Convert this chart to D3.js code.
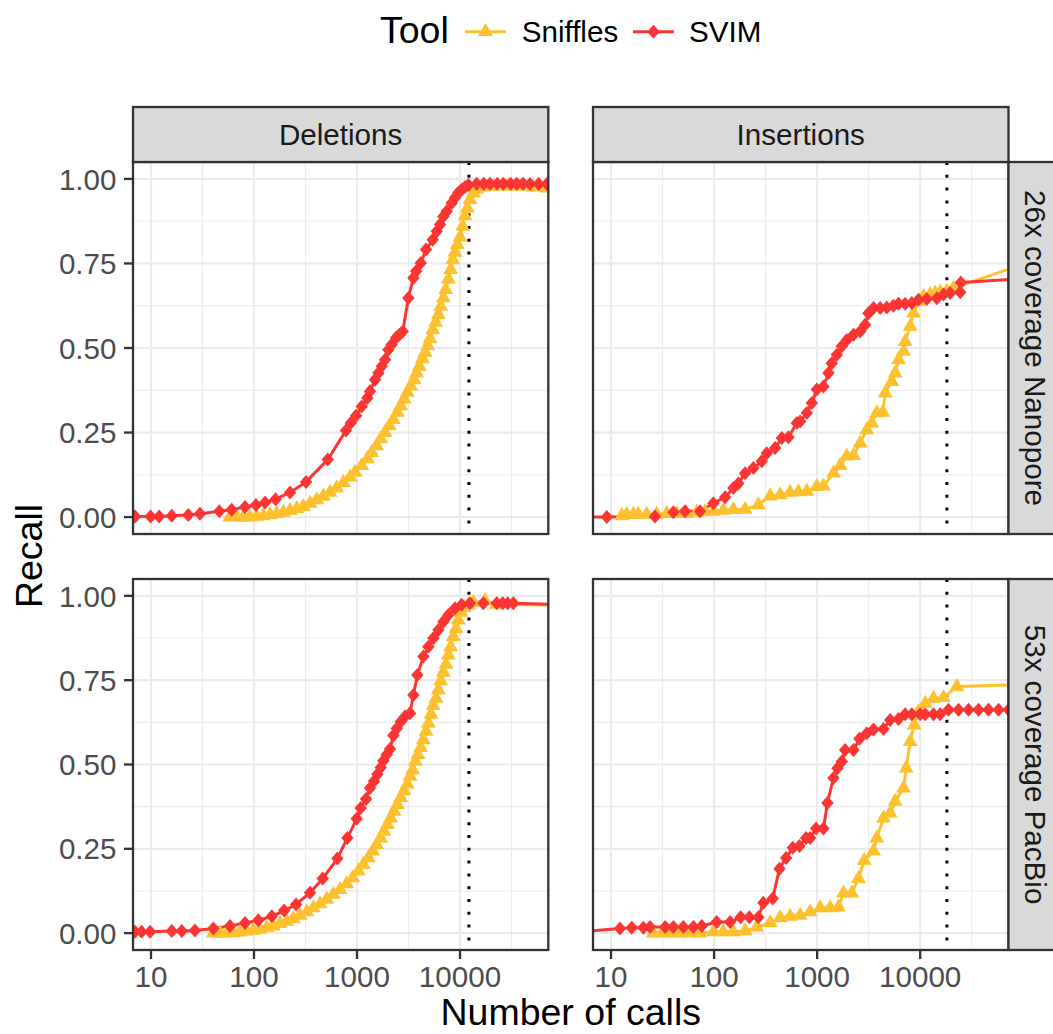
<!DOCTYPE html>
<html><head><meta charset="utf-8">
<script src="https://cdn.jsdelivr.net/npm/d3@7"></script>
<style>body{margin:0;background:#fff} svg{display:block}</style>
</head><body>
<script>
// ---------- data ----------
const tools = ["Sniffles", "SVIM"];
const svTypes = ["Deletions", "Insertions"];
const datasets = ["26x coverage Nanopore", "53x coverage PacBio"];
const xTickValues = [10, 100, 1000, 10000];
const yTickValues = [0, 0.25, 0.5, 0.75, 1];
const cutoffCalls = [12200, 18150]; // Deletions, Insertions

const snifflesDelNano = [[58,0],[68,0],[79,0],[91,0],[106,0.002],[123,0.004],[143,0.007],[166,0.010],[193,0.014],[224,0.019],[260,0.025],[301,0.031],[350,0.041],[406,0.051],[471,0.061],[547,0.073],[635,0.086],[736,0.102],[855,0.118],[957,0.132],[1110,0.152],[1259,0.172],[1387,0.191],[1552,0.211],[1698,0.231],[1871,0.250],[2061,0.270],[2254,0.288],[2465,0.310],[2656,0.329],[2861,0.349],[3083,0.369],[3321,0.387],[3577,0.406],[3796,0.426],[4028,0.446],[4308,0.468],[4573,0.487],[4853,0.507],[5114,0.527],[5428,0.554],[5806,0.576],[6163,0.599],[6494,0.623],[6892,0.648],[7263,0.673],[7710,0.704],[8115,0.732],[8490,0.761],[8935,0.783],[9415,0.806],[9995,0.828],[10610,0.860],[11190,0.891],[11790,0.914],[12510,0.939],[13470,0.958],[14520,0.970],[16850,0.976],[21090,0.978],[28400,0.978],[38260,0.978],[51500,0.976],[69400,0.973]];
const svimDelNano = [[7.0,0.002],[9.9,0.002],[12.0,0.002],[15.9,0.004],[23.0,0.006],[29.9,0.010],[46.1,0.017],[60.7,0.022],[81.8,0.030],[104.5,0.036],[128,0.043],[162,0.053],[224,0.073],[320,0.104],[520,0.170],[782,0.256],[869,0.278],[978,0.300],[1110,0.327],[1259,0.352],[1337,0.372],[1496,0.406],[1612,0.426],[1738,0.446],[1872,0.465],[2015,0.495],[2173,0.510],[2393,0.530],[2578,0.539],[2779,0.549],[3150,0.648],[3524,0.707],[3741,0.727],[4156,0.751],[4677,0.791],[5433,0.820],[5943,0.845],[6400,0.865],[6893,0.889],[7430,0.904],[8300,0.929],[8940,0.944],[9630,0.959],[10380,0.968],[11190,0.976],[12060,0.982],[14520,0.986],[17000,0.986],[19550,0.986],[23000,0.986],[26300,0.986],[31000,0.986],[35460,0.986],[41000,0.986],[47800,0.985],[58000,0.985],[69500,0.985]];
const snifflesInsNano = [[12.7,0.004],[14.2,0.007],[16.5,0.008],[18.4,0.008],[22.2,0.008],[27.7,0.009],[34.7,0.010],[43.4,0.010],[54.3,0.010],[67.9,0.015],[81.8,0.016],[98.5,0.017],[123,0.020],[154,0.022],[200,0.023],[269,0.036],[350,0.062],[438,0.066],[547,0.073],[659,0.075],[794,0.076],[993,0.090],[1152,0.092],[1441,0.130],[1672,0.152],[1941,0.180],[2254,0.182],[2614,0.219],[3034,0.258],[3396,0.278],[3796,0.308],[4341,0.310],[4573,0.367],[5305,0.401],[5716,0.426],[6163,0.465],[6892,0.490],[7150,0.519],[7998,0.564],[8616,0.603],[9630,0.638],[10780,0.653],[12510,0.658],[13990,0.662],[15640,0.665],[18150,0.668],[21090,0.677],[100000,0.748]];
const svimInsNano = [[5,0],[9.1,0],[26.7,0.002],[40.3,0.014],[52.2,0.017],[73.1,0.017],[98.5,0.041],[128,0.059],[154,0.086],[172,0.099],[200,0.130],[241,0.145],[290,0.165],[325,0.189],[391,0.204],[454,0.234],[527,0.236],[635,0.278],[684,0.283],[794,0.308],[888,0.337],[993,0.377],[1152,0.386],[1288,0.426],[1387,0.455],[1552,0.480],[1735,0.505],[1941,0.524],[2254,0.539],[2614,0.549],[2925,0.569],[3150,0.603],[3524,0.618],[4090,0.618],[4745,0.620],[5505,0.625],[6163,0.631],[7150,0.631],[8295,0.633],[9630,0.643],[11610,0.645],[14520,0.647],[16850,0.658],[19550,0.663],[24450,0.665],[24830,0.694],[100000,0.705]];
const snifflesDelPac = [[40.3,0],[46.7,0],[54.3,0],[63.0,0.001],[73.1,0.003],[84.9,0.006],[98.5,0.008],[114,0.011],[133,0.016],[154,0.021],[179,0.028],[208,0.035],[241,0.043],[280,0.053],[325,0.063],[377,0.075],[438,0.087],[508,0.100],[589,0.115],[684,0.129],[794,0.146],[908,0.164],[1030,0.184],[1152,0.203],[1288,0.223],[1419,0.243],[1552,0.262],[1698,0.282],[1829,0.302],[1969,0.322],[2122,0.341],[2286,0.361],[2465,0.381],[2656,0.402],[2861,0.422],[3083,0.442],[3273,0.465],[3474,0.484],[3686,0.509],[3910,0.529],[4150,0.550],[4408,0.573],[4677,0.598],[4930,0.622],[5230,0.649],[5505,0.675],[5848,0.696],[6163,0.721],[6494,0.748],[6892,0.773],[7313,0.797],[7710,0.824],[8115,0.849],[8616,0.879],[9146,0.903],[9630,0.928],[10230,0.951],[10940,0.965],[12060,0.973],[13470,0.981],[17490,0.985],[22700,0.975],[100000,0.972]];
const svimDelPac = [[7.0,0.004],[8.1,0.004],[9.8,0.004],[15.9,0.006],[19.9,0.006],[26.7,0.008],[40.3,0.014],[58.5,0.021],[81.8,0.030],[110,0.038],[149,0.050],[196,0.067],[256,0.085],[350,0.120],[465,0.162],[645,0.221],[806,0.282],[993,0.339],[1086,0.371],[1223,0.398],[1337,0.430],[1462,0.450],[1575,0.471],[1698,0.491],[1802,0.511],[1941,0.529],[2091,0.546],[2254,0.586],[2428,0.607],[2656,0.627],[2925,0.642],[3273,0.652],[3524,0.706],[3856,0.765],[4408,0.820],[4930,0.849],[5505,0.874],[6163,0.899],[6892,0.923],[7710,0.943],[8935,0.963],[10370,0.974],[12510,0.978],[16850,0.978],[22700,0.978],[26000,0.978],[29000,0.978],[32960,0.978],[100000,0.974]];
const snifflesInsPac = [[25.8,0],[31.1,0],[37.4,0],[45.1,0],[58.5,0],[73.1,0],[98.5,0.004],[123,0.004],[154,0.004],[200,0.006],[260,0.018],[350,0.031],[438,0.045],[547,0.050],[684,0.053],[855,0.063],[1069,0.075],[1337,0.075],[1612,0.077],[1802,0.119],[2173,0.119],[2518,0.162],[2861,0.215],[3524,0.243],[3796,0.282],[4408,0.341],[5114,0.356],[5716,0.391],[6892,0.430],[7313,0.489],[7998,0.568],[8750,0.617],[9630,0.657],[11190,0.681],[13470,0.696],[16850,0.698],[22700,0.731],[100000,0.737]];
const svimInsPac = [[5,0.004],[12.2,0.014],[15.9,0.016],[20.6,0.016],[23.9,0.018],[33.5,0.018],[40.3,0.018],[50.4,0.018],[63.0,0.018],[75.9,0.021],[106,0.033],[143,0.033],[181,0.047],[220,0.047],[269,0.047],[301,0.090],[371,0.103],[431,0.191],[500,0.223],[581,0.253],[674,0.258],[782,0.282],[855,0.282],[978,0.310],[1152,0.310],[1259,0.386],[1441,0.460],[1575,0.489],[1735,0.509],[1871,0.543],[2254,0.543],[2578,0.576],[3034,0.593],[3524,0.604],[4408,0.605],[5114,0.632],[6163,0.635],[7150,0.649],[8295,0.649],[9995,0.649],[11190,0.649],[13470,0.649],[15640,0.649],[18840,0.662],[23560,0.662],[29450,0.662],[36830,0.662],[46030,0.662],[57630,0.662],[72100,0.662],[100000,0.662]];

const seriesByPanel = [
  [[snifflesDelNano, svimDelNano], [snifflesInsNano, svimInsNano]],
  [[snifflesDelPac, svimDelPac], [snifflesInsPac, svimInsPac]]
];

// ---------- style / layout ----------
const W = 1053, H = 1034;
const colors = {Sniffles: "#FDC02F", SVIM: "#FB3434"};
const FONT = "'Liberation Sans', Arial, Helvetica, sans-serif";
const colX = [[133, 548.3], [593, 1008.5]];
const rowY = [[162, 534], [579, 950]];
const stripTop = 107, stripRightW = 55;
const small = 29.6, big = 37.5;

const svg = d3.select("body").append("svg").attr("width", W).attr("height", H)
  .style("font-family", FONT);
const defs = svg.append("defs");

const triPath = "M0,-8.6L7.5,4.4L-7.5,4.4Z";
const diaPath = "M0,-7L6.2,0L0,7L-6.2,0Z";
const shapes = {Sniffles: triPath, SVIM: diaPath};

const xDomain = [6.686, 71950];
const yDomain = [-0.05, 1.05];
const minorX = [31.62, 316.2, 3162, 31623];
const minorY = [0.125, 0.375, 0.625, 0.875];

rowY.forEach((ry, r) => {
  colX.forEach((cx, c) => {
    const x = d3.scaleLog().domain(xDomain).range(cx);
    const y = d3.scaleLinear().domain(yDomain).range([ry[1], ry[0]]);
    const id = `clip${r}${c}`;
    defs.append("clipPath").attr("id", id).append("rect")
      .attr("x", cx[0]).attr("y", ry[0]).attr("width", cx[1]-cx[0]).attr("height", ry[1]-ry[0]);
    const g = svg.append("g");
    g.append("rect").attr("x", cx[0]).attr("y", ry[0]).attr("width", cx[1]-cx[0]).attr("height", ry[1]-ry[0]).attr("fill", "#fff");
    // minor grid
    g.selectAll(".mx").data(minorX).join("line").attr("x1", d=>x(d)).attr("x2", d=>x(d))
      .attr("y1", ry[0]).attr("y2", ry[1]).attr("stroke", "#EBEBEB").attr("stroke-width", 1.1);
    g.selectAll(".my").data(minorY).join("line").attr("y1", d=>y(d)).attr("y2", d=>y(d))
      .attr("x1", cx[0]).attr("x2", cx[1]).attr("stroke", "#EBEBEB").attr("stroke-width", 1.1);
    // major grid
    g.selectAll(".Mx").data(xTickValues).join("line").attr("x1", d=>x(d)).attr("x2", d=>x(d))
      .attr("y1", ry[0]).attr("y2", ry[1]).attr("stroke", "#EBEBEB").attr("stroke-width", 2.2);
    g.selectAll(".My").data(yTickValues).join("line").attr("y1", d=>y(d)).attr("y2", d=>y(d))
      .attr("x1", cx[0]).attr("x2", cx[1]).attr("stroke", "#EBEBEB").attr("stroke-width", 2.2);

    const pg = g.append("g").attr("clip-path", `url(#${id})`);
    // cutoff line
    pg.append("line").attr("x1", x(cutoffCalls[c])).attr("x2", x(cutoffCalls[c]))
      .attr("y1", ry[0]).attr("y2", ry[1]).attr("stroke", "#000").attr("stroke-width", 3)
      .attr("stroke-dasharray", "3 9.8");
    const line = d3.line().x(d => x(d[0])).y(d => y(d[1]));
    const ser = seriesByPanel[r][c];
    ser.forEach((s, i) => {
      pg.append("path").attr("d", line(s)).attr("fill", "none")
        .attr("stroke", colors[tools[i]]).attr("stroke-width", 3).attr("stroke-linejoin", "round");
    });
    ser.forEach((s, i) => {
      pg.selectAll(null).data(s).join("path")
        .attr("d", shapes[tools[i]])
        .attr("transform", d => `translate(${x(d[0])},${y(d[1])})`)
        .attr("fill", colors[tools[i]]);
    });
    // border
    g.append("rect").attr("x", cx[0]).attr("y", ry[0]).attr("width", cx[1]-cx[0]).attr("height", ry[1]-ry[0])
      .attr("fill", "none").attr("stroke", "#333333").attr("stroke-width", 2.3);

    // top strips
    if (r === 0) {
      g.append("rect").attr("x", cx[0]).attr("y", stripTop).attr("width", cx[1]-cx[0]).attr("height", ry[0]-stripTop)
        .attr("fill", "#D9D9D9").attr("stroke", "#333333").attr("stroke-width", 2.3);
      g.append("text").attr("x", (cx[0]+cx[1])/2).attr("y", (stripTop+ry[0])/2).attr("dy", "0.36em")
        .attr("text-anchor", "middle").attr("font-size", small).attr("fill", "#1A1A1A").text(svTypes[c]);
    }
    // right strips
    if (c === 1) {
      g.append("rect").attr("x", cx[1]).attr("y", ry[0]).attr("width", stripRightW).attr("height", ry[1]-ry[0])
        .attr("fill", "#D9D9D9").attr("stroke", "#333333").attr("stroke-width", 2.3);
      g.append("text").attr("transform", `translate(${cx[1]+stripRightW/2},${(ry[0]+ry[1])/2}) rotate(90)`)
        .attr("dy", "0.36em").attr("text-anchor", "middle").attr("font-size", small).attr("fill", "#1A1A1A")
        .text(datasets[r]);
    }
    // y axis
    if (c === 0) {
      const ya = g.append("g");
      ya.selectAll("line").data(yTickValues).join("line").attr("x1", cx[0]-9).attr("x2", cx[0])
        .attr("y1", d=>y(d)).attr("y2", d=>y(d)).attr("stroke", "#333333").attr("stroke-width", 2.3);
      ya.selectAll("text").data(yTickValues).join("text").attr("x", cx[0]-16.5).attr("y", d=>y(d))
        .attr("dy", "0.36em").attr("text-anchor", "end").attr("font-size", small).attr("fill", "#4D4D4D")
        .text(d => d3.format(".2f")(d));
    }
    // x axis
    if (r === 1) {
      const xa = g.append("g");
      xa.selectAll("line").data(xTickValues).join("line").attr("y1", ry[1]).attr("y2", ry[1]+9)
        .attr("x1", d=>x(d)).attr("x2", d=>x(d)).attr("stroke", "#333333").attr("stroke-width", 2.3);
      xa.selectAll("text").data(xTickValues).join("text").attr("y", ry[1]+37).attr("x", d=>x(d))
        .attr("text-anchor", "middle").attr("font-size", small).attr("fill", "#4D4D4D")
        .text(d => String(d));
    }
  });
});

// axis titles
svg.append("text").attr("x", (colX[0][0]+colX[1][1])/2).attr("y", 1025).attr("text-anchor", "middle")
  .attr("font-size", big).attr("fill", "#000").text("Number of calls");
svg.append("text").attr("transform", `translate(42,${(rowY[0][0]+rowY[1][1])/2}) rotate(-90)`)
  .attr("text-anchor", "middle").attr("font-size", big).attr("fill", "#000").text("Recall");

// legend
const lg = svg.append("g");
lg.append("text").attr("x", 380).attr("y", 43).attr("font-size", big).attr("fill", "#000").text("Tool");
const keyX = [465, 633], labX = [521.7, 689];
tools.forEach((t, i) => {
  lg.append("line").attr("x1", keyX[i]).attr("x2", keyX[i]+41).attr("y1", 31.7).attr("y2", 31.7)
    .attr("stroke", colors[t]).attr("stroke-width", 3);
  lg.append("path").attr("d", shapes[t]).attr("transform", `translate(${keyX[i]+20.5},31.7)`).attr("fill", colors[t]);
  lg.append("text").attr("x", labX[i]).attr("y", 42).attr("font-size", small).attr("fill", "#000").text(t);
});
</script>
</body></html>
